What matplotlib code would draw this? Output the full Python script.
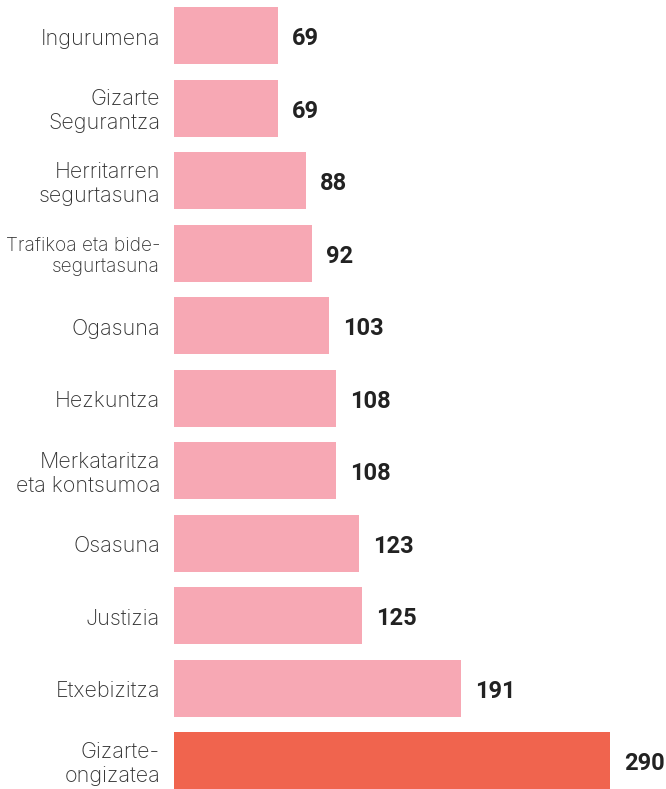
import numpy as np
import matplotlib
matplotlib.use('Agg')
import matplotlib.pyplot as plt

# data, top to bottom
categories = ['Ingurumena', 'Gizarte\nSegurantza', 'Herritarren\nsegurtasuna',
              'Trafikoa eta bide-\nsegurtasuna', 'Ogasuna', 'Hezkuntza',
              'Merkataritza\neta kontsumoa', 'Osasuna', 'Justizia',
              'Etxebizitza', 'Gizarte-\nongizatea']
values = [69, 69, 88, 92, 103, 108, 108, 123, 125, 191, 290]
highlight = 'Gizarte-\nongizatea'

pink = '#F7A8B4'
red = '#F0644E'

W, H = 666, 789
fig = plt.figure(figsize=(W / 100, H / 100), dpi=100)
x0 = 174
ax = fig.add_axes([x0 / W, 0, 1 - x0 / W, 1])

px_per_unit = 436 / 290
step = 72.47
first_center = 35.8

y = np.arange(len(values))
colors = [red if c == highlight else pink for c in categories]
ax.barh(y, values, height=57 / step, color=colors, linewidth=0)

ax.set_xlim(0, (W - x0) / px_per_unit)
ax.set_ylim((H - first_center) / step, -first_center / step)
ax.axis('off')

labels = []
for yi, cat, v in zip(y, categories, values):
    t = ax.annotate(cat, xy=(0, yi), xytext=(-14, -3), textcoords='offset pixels',
                    ha='right', va='center', fontsize=15.5, family='Inter',
                    fontweight='light', color='#333333', linespacing=1.25)
    labels.append(t)
    ax.annotate(str(v), xy=(v, yi), xytext=(14, -3), textcoords='offset pixels',
                ha='left', va='center', fontsize=17, family='Roboto',
                fontweight='bold', color='#222222')

# shrink labels that run off the left edge
fig.canvas.draw()
r = fig.canvas.get_renderer()
for t in labels:
    bb = t.get_window_extent(r)
    if bb.x0 < 6:
        avail = (x0 - 14) - 6
        t.set_fontsize(t.get_fontsize() * avail / bb.width)

fig.savefig('out.png', dpi=100)
